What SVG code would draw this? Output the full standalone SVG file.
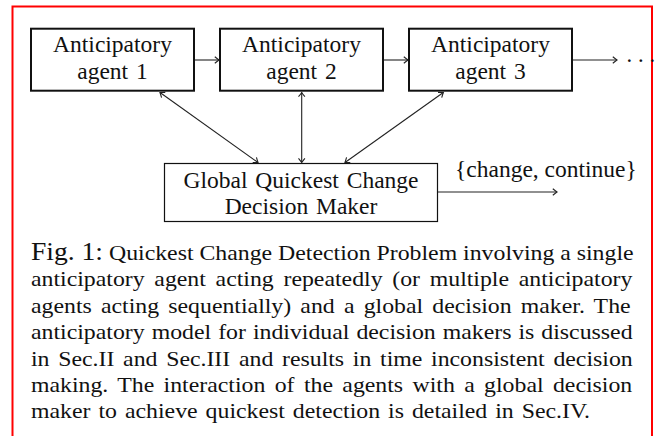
<svg xmlns="http://www.w3.org/2000/svg" width="670" height="436" viewBox="0 0 670 436">
<style>
  .frame{fill:none;stroke:#ff0000;stroke-width:2}
  .agent{fill:#fff;stroke:#111;stroke-width:2}
  .gdm{fill:#fff;stroke:#111;stroke-width:1.2}
  .lbl{font-family:"Liberation Serif","Times New Roman",serif;font-size:23.5px;fill:#111;text-anchor:middle}
  .cap{font-family:"Liberation Serif","Times New Roman",serif;font-size:22px;fill:#111}
  .conn line{stroke:#222;stroke-width:1.1;fill:none}
</style>
<defs>
  <marker id="ah" viewBox="-6 -5 8 10" refX="0" refY="0" markerWidth="8" markerHeight="10" markerUnits="userSpaceOnUse" orient="auto-start-reverse">
    <path d="M-4.2,-3.2 Q-1.2,-0.8 0,0 Q-1.2,0.8 -4.2,3.2" fill="none" stroke="#222" stroke-width="1.1"/>
  </marker>
</defs>
<rect width="670" height="436" fill="#fff"/>
<rect class="frame" x="12.5" y="6.5" width="639.5" height="440"/>

<g id="agent1">
  <rect class="agent" x="31" y="28.7" width="163" height="62"/>
  <text class="lbl" x="112.5" y="52">Anticipatory</text>
  <text class="lbl" x="112.5" y="79" word-spacing="2">agent 1</text>
</g>
<g id="agent2">
  <rect class="agent" x="220" y="28.7" width="163" height="62"/>
  <text class="lbl" x="301.5" y="52">Anticipatory</text>
  <text class="lbl" x="301.5" y="79" word-spacing="2">agent 2</text>
</g>
<g id="agent3">
  <rect class="agent" x="409" y="28.7" width="163" height="62"/>
  <text class="lbl" x="490.5" y="52">Anticipatory</text>
  <text class="lbl" x="490.5" y="79" word-spacing="2">agent 3</text>
</g>
<g id="dots">
  <text x="625.5" y="68" font-family="Liberation Serif, serif" font-size="23" letter-spacing="3.8" fill="#111">···</text>
</g>
<g id="global">
  <rect class="gdm" x="164.5" y="163.5" width="273" height="58"/>
  <text class="lbl" x="301" y="188.3" word-spacing="2">Global Quickest Change</text>
  <text class="lbl" x="301" y="214" word-spacing="2">Decision Maker</text>
</g>
<g id="output-label">
  <text x="455" y="177" font-family="Liberation Serif, serif" font-size="23.5" fill="#111">{change, continue}</text>
</g>

<g class="conn" id="connectors">
  <line x1="195" y1="60" x2="219" y2="60" marker-end="url(#ah)"/>
  <line x1="384" y1="60" x2="408" y2="60" marker-end="url(#ah)"/>
  <line x1="573" y1="60" x2="617" y2="60" marker-end="url(#ah)"/>
  <line x1="160" y1="92.5" x2="258" y2="162.5" marker-start="url(#ah)" marker-end="url(#ah)"/>
  <line x1="301.7" y1="92.5" x2="301.7" y2="162.5" marker-start="url(#ah)" marker-end="url(#ah)"/>
  <line x1="443.3" y1="92.5" x2="345" y2="162.5" marker-start="url(#ah)" marker-end="url(#ah)"/>
  <line x1="438" y1="192" x2="557" y2="192" marker-end="url(#ah)"/>
</g>

<g id="caption" class="cap" transform="translate(31,0) scale(1.082,1)">
  <text x="0" y="260" word-spacing="0"><tspan font-size="25.5">Fig. 1:</tspan> Quickest Change Detection Problem involving a single</text>
  <text x="0" y="286.4" word-spacing="3.5">anticipatory agent acting repeatedly (or multiple anticipatory</text>
  <text x="0" y="312.8" word-spacing="3.0">agents acting sequentially) and a global decision maker. The</text>
  <text x="0" y="339.2" word-spacing="1.0">anticipatory model for individual decision makers is discussed</text>
  <text x="0" y="365.6" word-spacing="2.56">in Sec.II and Sec.III and results in time inconsistent decision</text>
  <text x="0" y="392" word-spacing="3.17">making. The interaction of the agents with a global decision</text>
  <text x="0" y="418.4" word-spacing="1.9">maker to achieve quickest detection is detailed in Sec.IV.</text>
</g>
</svg>
